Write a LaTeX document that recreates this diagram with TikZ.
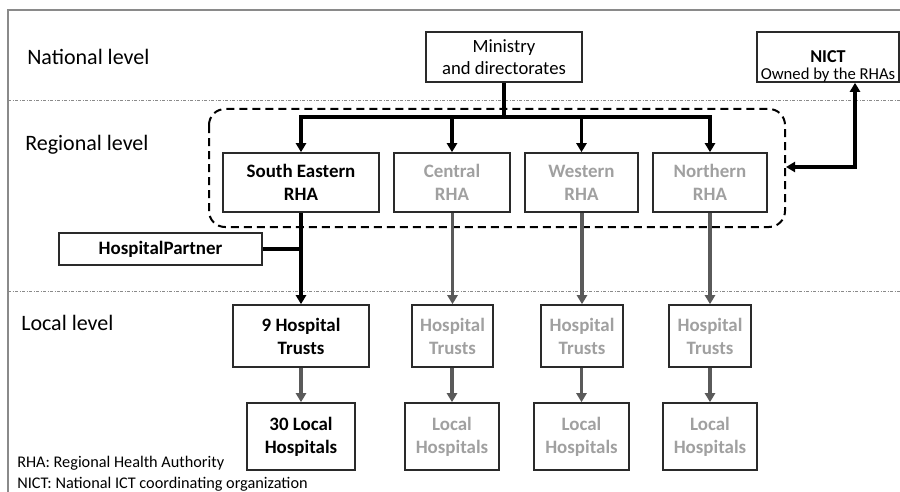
\documentclass[tikz,border=0pt]{standalone}
\usepackage{fontspec}
\setmainfont{Carlito}
\usetikzlibrary{arrows.meta}
\def\pxu{0.75pt}
\definecolor{frame}{HTML}{8A8A8A}
\definecolor{graytxt}{HTML}{A0A0A0}
\definecolor{grayarr}{HTML}{5A5A5A}
\definecolor{boxline}{HTML}{2A2A2A}
\tikzset{
  box/.style={draw=boxline, line width=1.6*\pxu, inner sep=0pt, align=center,
    font=\fontsize{14.2}{17.25}\selectfont\bfseries},
  graybox/.style={box, text=graytxt},
  plainbox/.style={draw=boxline, line width=1.6*\pxu, inner sep=0pt, align=center,
    font=\fontsize{14}{16.5}\selectfont},
  levellabel/.style={anchor=west, inner sep=0pt, font=\fontsize{16.5}{19}\selectfont},
  legend/.style={anchor=west, inner sep=0pt, font=\fontsize{12.2}{14}\selectfont},
  blackarrow/.style={line width=3.2*\pxu, -{Triangle[length=9*\pxu, width=10*\pxu]}},
  grayarrow/.style={draw=grayarr, line width=3.2*\pxu, -{Triangle[length=9*\pxu, width=10*\pxu]}, fill=grayarr},
  levelline/.style={draw=frame, line width=1*\pxu, dash pattern=on 3*\pxu off 1.5*\pxu on 1*\pxu off 1.5*\pxu},
}
\begin{document}
\begin{tikzpicture}[x=0.75pt, y=-0.75pt]
\useasboundingbox (0,0) rectangle (900,492);
% frame
\draw[frame, line width=1.5*\pxu] (8,492) -- (8,10) -- (900,10);
% level separators
\coordinate (l1a) at (8,101); \coordinate (l1b) at (900,101);
\coordinate (l2a) at (8,291); \coordinate (l2b) at (900,291);
\draw[levelline] (l1a) -- (l1b);
\draw[levelline] (l2a) -- (l2b);
% level labels
\node[levellabel] (nat) at (27,57) {National level};
\node[levellabel] (reg) at (25,145) {Regional level};
\node[levellabel] (loc) at (21,323) {Local level};
% legend
\node[legend] (leg1) at (17,463) {RHA: Regional Health Authority};
\node[legend] (leg2) at (17,484) {NICT: National ICT coordinating organization};
% dashed regional box
\draw[line width=2*\pxu, dash pattern=on 8*\pxu off 5*\pxu, rounded corners=16*\pxu] (209,109) rectangle (785,227);
\coordinate (dashR) at (786,167);
% national
\node[plainbox, minimum width=156*\pxu, minimum height=50*\pxu] (min) at (504,57) {Ministry\\and directorates};
\node[draw=boxline, line width=1.6*\pxu, inner sep=0pt, minimum width=142*\pxu, minimum height=50*\pxu] (nict) at (828,57) {};
\node[inner sep=0pt, align=center, font=\fontsize{12.5}{12.75}\selectfont] (nicttxt) at (828,66.5)
  {{\fontsize{13.6}{12.75}\selectfont\bfseries NICT}\\Owned by the RHAs};
% regional
\node[box, minimum width=156*\pxu, minimum height=59*\pxu] (se) at (301,182.5) {South Eastern\\RHA};
\node[graybox, minimum width=116*\pxu, minimum height=59*\pxu] (ce) at (452,182.5) {Central\\RHA};
\node[graybox, minimum width=113*\pxu, minimum height=59*\pxu] (we) at (581.5,182.5) {Western\\RHA};
\node[graybox, minimum width=114*\pxu, minimum height=59*\pxu] (no) at (710,182.5) {Northern\\RHA};
% hospital partner
\node[box, minimum width=203*\pxu, minimum height=32*\pxu] (hp) at (160.5,249) {HospitalPartner};
% local
\node[box, minimum width=136*\pxu, minimum height=62*\pxu] (ht1) at (301,336) {9 Hospital\\Trusts};
\node[box, minimum width=108*\pxu, minimum height=67*\pxu] (lh1) at (301,436.5) {30 Local\\Hospitals};
\node[graybox, minimum width=81*\pxu, minimum height=62*\pxu] (ht2) at (452.5,336) {Hospital\\Trusts};
\node[graybox, minimum width=94*\pxu, minimum height=67*\pxu] (lh2) at (452,436.5) {Local\\Hospitals};
\node[graybox, minimum width=82*\pxu, minimum height=62*\pxu] (ht3) at (582,336) {Hospital\\Trusts};
\node[graybox, minimum width=95*\pxu, minimum height=67*\pxu] (lh3) at (581.5,436.5) {Local\\Hospitals};
\node[graybox, minimum width=82*\pxu, minimum height=62*\pxu] (ht4) at (710,336) {Hospital\\Trusts};
\node[graybox, minimum width=94*\pxu, minimum height=67*\pxu] (lh4) at (710,436.5) {Local\\Hospitals};
% ministry to RHAs
\coordinate (br) at (504,117);
\draw[line width=3.2*\pxu] (min.south) -- (br);
\draw[blackarrow] (br) -| (se.north);
\draw[blackarrow] (br) -| (ce.north);
\draw[blackarrow] (br) -| (we.north);
\draw[blackarrow] (br) -| (no.north);
% NICT link
\draw[line width=3.2*\pxu, {Triangle[length=9*\pxu, width=10*\pxu]}-{Triangle[length=9*\pxu, width=10*\pxu]}] (nict.south -| 855,0) |- (dashR);
% SE to trusts
\draw[blackarrow] (se.south) -- (ht1.north);
\draw[line width=3.2*\pxu] (hp.east) -- (hp.east -| se.south);
% gray arrows
\draw[grayarrow] (ce.south -| ht2.north) -- (ht2.north);
\draw[grayarrow] (we.south -| ht3.north) -- (ht3.north);
\draw[grayarrow] (no.south) -- (ht4.north);
\draw[grayarrow] (ht1.south) -- (lh1.north);
\draw[grayarrow] (ht2.south -| lh2.north) -- (lh2.north);
\draw[grayarrow] (ht3.south -| lh3.north) -- (lh3.north);
\draw[grayarrow] (ht4.south) -- (lh4.north);
\end{tikzpicture}
\end{document}
